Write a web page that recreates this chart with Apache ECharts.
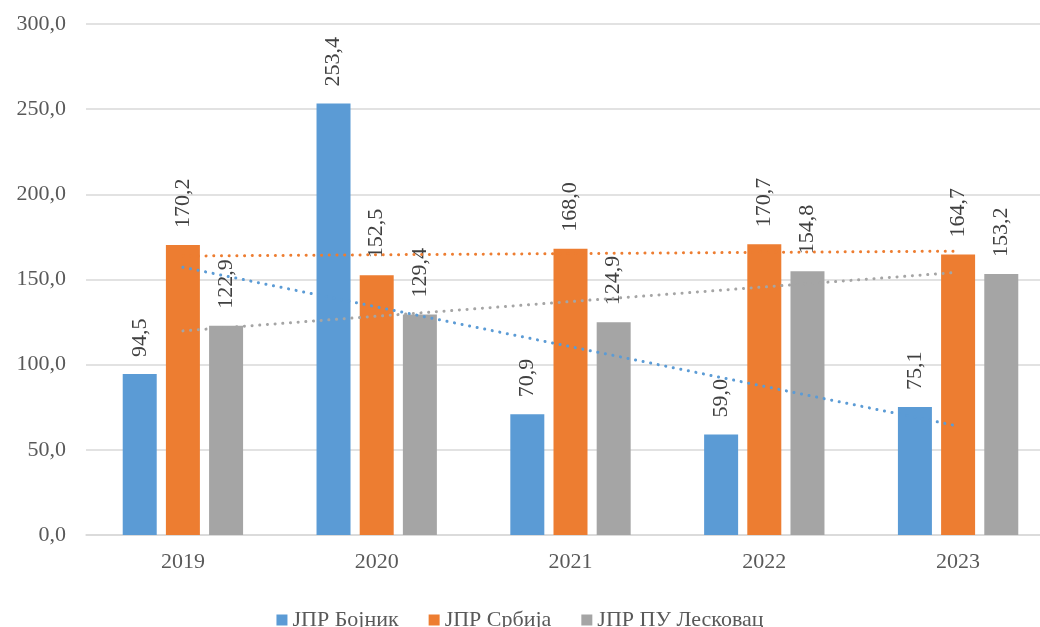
<!DOCTYPE html>
<html>
<head>
<meta charset="utf-8">
<style>
  html, body { margin: 0; padding: 0; background: #fff; }
  #chart { width: 1040px; height: 627px; }
</style>
<script src="https://cdn.jsdelivr.net/npm/echarts@6/dist/echarts.min.js"></script>
</head>
<body>
<div id="chart"></div>
<script>
const years = ['2019', '2020', '2021', '2022', '2023']
const seriesNames = ['ЈПР Бојник', 'ЈПР Србија', 'ЈПР ПУ Лесковац']
const bojnik = [94.5, 253.4, 70.9, 59.0, 75.1]
const srbija = [170.2, 152.5, 168.0, 170.7, 164.7]
const leskovac = [122.9, 129.4, 124.9, 154.8, 153.2]
const colors = ['#5B9BD5', '#ED7D31', '#A5A5A5']

const font = '"Liberation Serif", "DejaVu Serif", serif'
const textColor = '#595959'
const fmt = v => Number(v).toFixed(1).replace('.', ',')

// linear trend (least squares) of a series, like the Excel trendline
function trend(values) {
  const n = values.length
  const mx = (n + 1) / 2
  const my = values.reduce((a, b) => a + b, 0) / n
  let sxy = 0, sxx = 0
  values.forEach((y, i) => {
    sxy += (i + 1 - mx) * (y - my)
    sxx += (i + 1 - mx) * (i + 1 - mx)
  })
  const k = sxy / sxx
  return values.map((_, i) => +(my + k * (i + 1 - mx)).toFixed(2))
}

const chart = echarts.init(document.getElementById('chart'))

const data = [bojnik, srbija, leskovac]

const barSeries = data.map((vals, i) => ({
  name: seriesNames[i],
  type: 'bar',
  data: vals,
  barWidth: 34,
  barGap: '27%',
  itemStyle: { color: colors[i] },
  label: {
    show: true,
    position: 'top',
    rotate: 90,
    align: 'left',
    verticalAlign: 'middle',
    distance: 17,
    formatter: p => fmt(p.value),
    color: '#404040',
    fontFamily: font,
    fontSize: 22
  },
  z: 2
}))

const trendSeries = data.map((vals, i) => ({
  name: seriesNames[i] + ' trend',
  type: 'line',
  data: trend(vals),
  showSymbol: false,
  silent: true,
  lineStyle: {
    color: colors[i],
    width: 3,
    type: [0.1, 7.6],
    cap: 'round'
  },
  z: 5
}))

chart.setOption({
  animation: false,
  textStyle: { fontFamily: font },
  grid: {
    left: 86,
    right: -15,
    top: 24,
    bottom: 92,
    outerBoundsMode: 'none',
    containLabel: false
  },
  legend: {
    data: seriesNames.map((n, i) => ({ name: n, itemStyle: { color: colors[i] } })),
    bottom: -9,
    left: 'center',
    itemWidth: 11,
    itemHeight: 11,
    itemGap: 30,
    icon: 'rect',
    textStyle: { color: textColor, fontSize: 22, fontFamily: font }
  },
  xAxis: {
    type: 'category',
    data: years,
    axisTick: { show: false },
    axisLine: { lineStyle: { color: '#D9D9D9', width: 1.5 } },
    axisLabel: {
      color: textColor,
      fontSize: 22,
      fontFamily: font,
      margin: 16
    }
  },
  yAxis: {
    type: 'value',
    min: 0,
    max: 300,
    interval: 50,
    axisLine: { show: false },
    axisTick: { show: false },
    splitLine: { lineStyle: { color: '#D9D9D9', width: 1.5 } },
    axisLabel: {
      color: textColor,
      fontSize: 22,
      fontFamily: font,
      margin: 20,
      formatter: v => fmt(v)
    }
  },
  series: barSeries.concat(trendSeries)
})
</script>
</body>
</html>
